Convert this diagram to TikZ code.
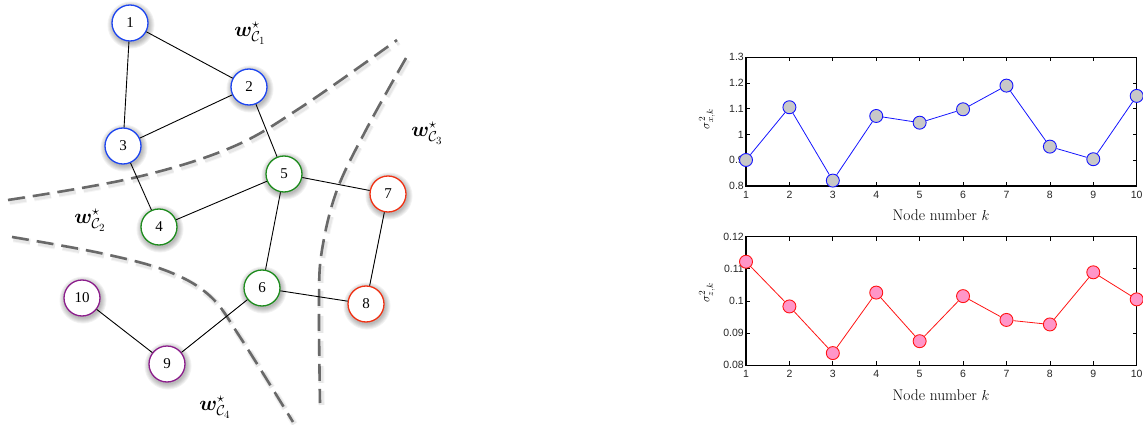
\documentclass[tikz,border=0pt]{standalone}
\usepackage{fontspec}
\usepackage{amsmath,bm}
\newfontfamily\tickfont{Liberation Sans}
\newfontfamily\numfont{Liberation Serif}
\usetikzlibrary{calc}
\definecolor{nblue}{RGB}{30,70,240}
\definecolor{ngreen}{RGB}{30,140,30}
\definecolor{nred}{RGB}{240,50,20}
\definecolor{npurple}{RGB}{140,30,140}
\definecolor{dgray}{RGB}{105,105,105}
\definecolor{mgray}{RGB}{200,200,200}
\definecolor{mpink}{RGB}{255,150,200}
\definecolor{pblue}{RGB}{20,20,255}
\definecolor{pred}{RGB}{255,20,20}
\begin{document}
\begin{tikzpicture}[x=1pt,y=-1pt,
  gnode/.style={circle,draw=#1,fill=white,line width=1.3pt,minimum size=36pt,inner sep=0pt,
    font=\numfont\fontsize{15}{15}\selectfont},
  edge/.style={line width=0.9pt,black},
  region/.style={dgray,line width=2.6pt,dash pattern=on 17pt off 8pt},
  wlab/.style={font=\fontsize{21.5}{25}\selectfont},
  ticklab/.style={font=\tickfont\fontsize{10.5}{12}\selectfont,text=black!85},
  axlab/.style={font=\fontsize{15.5}{18}\selectfont},
  ylab/.style={font=\fontsize{13}{15}\selectfont,rotate=90},
  axbox/.style={line width=1.1pt,black},
  tk/.style={line width=0.7pt,black},
  mkA/.style={circle,draw=pblue,fill=mgray,line width=0.9pt,minimum size=13pt,inner sep=0pt},
  mkB/.style={circle,draw=pred,fill=mpink,line width=0.9pt,minimum size=13pt,inner sep=0pt}
]
\useasboundingbox (0,0) rectangle (1143,425);

% ---------- dashed region boundaries (with soft shadow) ----------
\foreach \o/\op in {4/0.04,2/0.06}{
\draw[region,draw=black,opacity=\op,line width=2.6pt+\o pt,xshift=1.5pt,yshift=-2pt] plot[smooth,tension=0.6] coordinates {(8,200) (133,178) (230,148) (300,108) (397,40)};
\draw[region,draw=black,opacity=\op,line width=2.6pt+\o pt,xshift=1.5pt,yshift=-2pt] plot[smooth,tension=0.6] coordinates {(406,58) (367,128) (337,190) (322,250) (319,300) (320,403)};
\draw[region,draw=black,opacity=\op,line width=2.6pt+\o pt,xshift=1.5pt,yshift=-2pt] plot[smooth,tension=0.6] coordinates {(12,237) (100,253) (167,271) (210,296) (240,337) (293,422)};
}
\draw[region] plot[smooth,tension=0.6] coordinates {(8,200) (133,178) (230,148) (300,108) (397,40)};
\draw[region] plot[smooth,tension=0.6] coordinates {(406,58) (367,128) (337,190) (322,250) (319,300) (320,403)};
\draw[region] plot[smooth,tension=0.6] coordinates {(12,237) (100,253) (167,271) (210,296) (240,337) (293,422)};

% ---------- node shadows ----------
\foreach \x/\y in {130/23,249/87,123/146,159/227,284/174,262/288,388/194,366/304,167/364,82/298}{
  \foreach \r in {18.5,19.5,20.5,21.5,22.5,23.5}{
    \fill[black,opacity=0.05] (\x+1,\y+2) circle (\r pt);
  }
}

% ---------- graph nodes ----------
\node[gnode=nblue]   (n1)  at (130,23)  {1};
\node[gnode=nblue]   (n2)  at (249,87)  {2};
\node[gnode=nblue]   (n3)  at (123,146) {3};
\node[gnode=ngreen]  (n4)  at (159,227) {4};
\node[gnode=ngreen]  (n5)  at (284,174) {5};
\node[gnode=ngreen]  (n6)  at (262,288) {6};
\node[gnode=nred]    (n7)  at (388,194) {7};
\node[gnode=nred]    (n8)  at (366,304) {8};
\node[gnode=npurple] (n9)  at (167,364) {9};
\node[gnode=npurple] (n10) at (82,298)  {10};

\foreach \a/\b in {n1/n2,n1/n3,n2/n3,n2/n5,n3/n4,n4/n5,n5/n7,n5/n6,n6/n8,n7/n8,n6/n9,n9/n10}{
  \draw[edge] (\a) -- (\b);
}

% ---------- region labels ----------
\node[wlab] (w1) at (250,33)  {$\boldsymbol{w}^{\star}_{\mathcal{C}_1}$};
\node[wlab] (w2) at (90,220)  {$\boldsymbol{w}^{\star}_{\mathcal{C}_2}$};
\node[wlab] (w3) at (427,133) {$\boldsymbol{w}^{\star}_{\mathcal{C}_3}$};
\node[wlab] (w4) at (215,407) {$\boldsymbol{w}^{\star}_{\mathcal{C}_4}$};

% ---------- top plot ----------
\def\L{746}\def\R{1136.7}\def\dx{43.41}
\def\Ta{57.3}\def\Tb{186}
\draw[axbox] (\L,\Ta) rectangle (\R,\Tb);
\foreach \k in {1,...,10}{
  \pgfmathsetmacro\xx{\L+(\k-1)*\dx}
  \draw[tk] (\xx,\Tb) -- (\xx,\Tb-4);
  \draw[tk] (\xx,\Ta) -- (\xx,\Ta+4);
  \node[ticklab] (tx\k) at (\xx,\Tb+9) {\k};
}
\foreach \v/\t in {0.8/0.8,0.9/0.9,1.0/1,1.1/1.1,1.2/1.2,1.3/1.3}{
  \pgfmathsetmacro\yy{\Tb-(\v-0.8)*257.4}
  \draw[tk] (\L,\yy) -- (\L+4,\yy);
  \draw[tk] (\R,\yy) -- (\R-4,\yy);
  \node[ticklab,anchor=east,inner sep=1pt] (ty\t) at (\L-1,\yy) {\t};
}
\node[axlab] (xlA) at (941,215) {Node number $k$};
\node[ylab] (ylA) at (707,119) {$\sigma^2_{x,k}$};
\foreach \k/\v in {1/0.901,2/1.106,3/0.821,4/1.072,5/1.046,6/1.098,7/1.190,8/0.953,9/0.904,10/1.150}{
  \pgfmathsetmacro\xx{\L+(\k-1)*\dx}
  \pgfmathsetmacro\yy{\Tb-(\v-0.8)*257.4}
  \node[mkA] (a\k) at (\xx,\yy) {};
}
\foreach \i/\j in {1/2,2/3,3/4,4/5,5/6,6/7,7/8,8/9,9/10}{
  \draw[pblue,line width=0.8pt] (a\i) -- (a\j);
}

% ---------- bottom plot ----------
\def\Ba{236.7}\def\Bb{365.3}
\draw[axbox] (\L,\Ba) rectangle (\R,\Bb);
\foreach \k in {1,...,10}{
  \pgfmathsetmacro\xx{\L+(\k-1)*\dx}
  \draw[tk] (\xx,\Bb) -- (\xx,\Bb-4);
  \draw[tk] (\xx,\Ba) -- (\xx,\Ba+4);
  \node[ticklab] (bx\k) at (\xx,\Bb+9) {\k};
}
\foreach \v/\t in {0.08/0.08,0.09/0.09,0.10/0.1,0.11/0.11,0.12/0.12}{
  \pgfmathsetmacro\yy{\Bb-(\v-0.08)*3217.5}
  \draw[tk] (\L,\yy) -- (\L+4,\yy);
  \draw[tk] (\R,\yy) -- (\R-4,\yy);
  \node[ticklab,anchor=east,inner sep=1pt] (by\t) at (\L-1,\yy) {\t};
}
\node[axlab] (xlB) at (941,395) {Node number $k$};
\node[ylab] (ylB) at (707,293) {$\sigma^2_{z,k}$};
\foreach \k/\v in {1/0.1122,2/0.0983,3/0.0838,4/0.1026,5/0.0875,6/0.1015,7/0.0941,8/0.0927,9/0.1089,10/0.1005}{
  \pgfmathsetmacro\xx{\L+(\k-1)*\dx}
  \pgfmathsetmacro\yy{\Bb-(\v-0.08)*3217.5}
  \node[mkB] (b\k) at (\xx,\yy) {};
}
\foreach \i/\j in {1/2,2/3,3/4,4/5,5/6,6/7,7/8,8/9,9/10}{
  \draw[pred,line width=0.8pt] (b\i) -- (b\j);
}
\end{tikzpicture}
\end{document}
